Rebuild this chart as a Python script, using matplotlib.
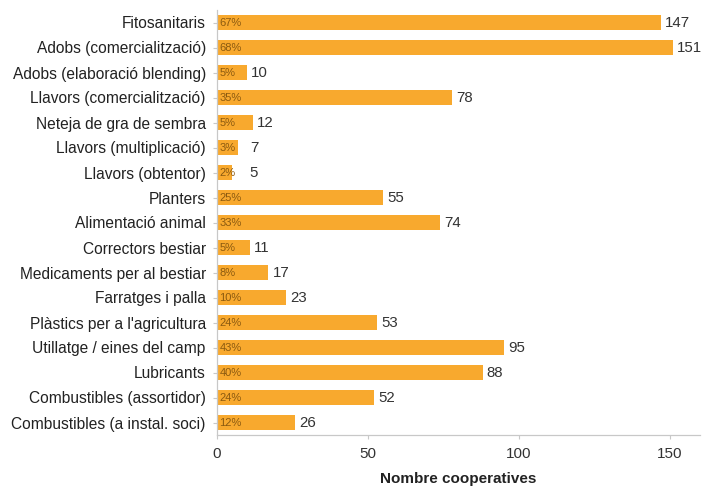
import matplotlib
matplotlib.use("Agg")
import matplotlib.pyplot as plt

categories = [
    "Fitosanitaris",
    "Adobs (comercialització)",
    "Adobs (elaboració blending)",
    "Llavors (comercialització)",
    "Neteja de gra de sembra",
    "Llavors (multiplicació)",
    "Llavors (obtentor)",
    "Planters",
    "Alimentació animal",
    "Correctors bestiar",
    "Medicaments per al bestiar",
    "Farratges i palla",
    "Plàstics per a l'agricultura",
    "Utillatge / eines del camp",
    "Lubricants",
    "Combustibles (assortidor)",
    "Combustibles (a instal. soci)",
]
values = [147, 151, 10, 78, 12, 7, 5, 55, 74, 11, 17, 23, 53, 95, 88, 52, 26]
percents = ["67%", "68%", "5%", "35%", "5%", "3%", "2%", "25%", "33%", "5%", "8%",
            "10%", "24%", "43%", "40%", "24%", "12%"]
xticks = [0, 50, 100, 150]

plt.rcParams['font.family'] = ['Liberation Sans', 'DejaVu Sans']

fig = plt.figure(figsize=(7.02, 4.88), dpi=100)
ax = fig.add_axes([0.309, 1 - 435 / 488, 0.688, 425 / 488])

bar_color = "#F8A92E"
ypos = list(range(len(categories)))
ax.barh(ypos, values, height=0.58, color=bar_color)

for y, v, p in zip(ypos, values, percents):
    ax.text(0.8, y + 0.03, p, va="center", ha="left", fontsize=8, color="#8B5A10")
    lx = max(v, 9.5) + 1.4
    ax.text(lx, y + 0.03, str(v), va="center", ha="left", fontsize=10.8, color="#333333")

ax.set_ylim(len(categories) - 0.5, -0.5)
ax.set_xlim(0, 160)
ax.set_yticks(ypos)
ax.set_yticklabels(categories, fontsize=11.2, color="#222222")
ax.set_xticks(xticks)
ax.set_xticklabels([str(t) for t in xticks], fontsize=11, color="#333333")

for s in ["top", "right"]:
    ax.spines[s].set_visible(False)
for s in ["left", "bottom"]:
    ax.spines[s].set_color("#C8C8C8")
    ax.spines[s].set_linewidth(0.9)
ax.tick_params(axis="x", colors="#C8C8C8", labelcolor="#333333", length=3, pad=6)
ax.tick_params(axis="y", colors="#C8C8C8", labelcolor="#222222", length=3, pad=5)

fig.text((217 + 700) / 2 / 702, 1 - 479 / 488, "Nombre cooperatives", fontsize=11,
         fontweight="bold", color="#222222", ha="center", va="center")

fig.savefig("out.png", dpi=100)
